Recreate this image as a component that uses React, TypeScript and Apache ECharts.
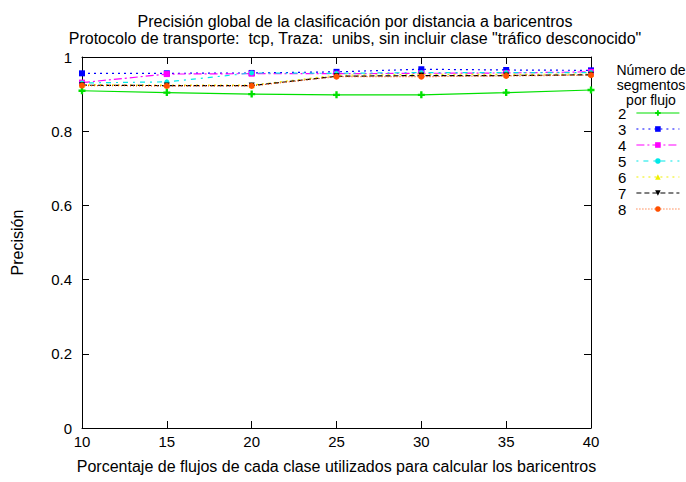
import React, { useEffect, useRef } from 'react';
import * as echarts from 'echarts';

const xValues = [10, 15, 20, 25, 30, 35, 40];
const seriesNames = ['2', '3', '4', '5', '6', '7', '8'];
const seg2 = [0.909, 0.904, 0.900, 0.898, 0.898, 0.904, 0.911];
const seg3 = [0.956, 0.956, 0.957, 0.960, 0.967, 0.965, 0.964];
const seg4 = [0.931, 0.954, 0.955, 0.955, 0.956, 0.957, 0.960];
const seg5 = [0.930, 0.933, 0.957, 0.956, 0.958, 0.958, 0.958];
const seg6 = [0.925, 0.924, 0.924, 0.951, 0.953, 0.953, 0.954];
const seg7 = [0.924, 0.923, 0.923, 0.948, 0.950, 0.950, 0.952];
const seg8 = [0.923, 0.922, 0.922, 0.947, 0.947, 0.949, 0.951];
const yTicks = [0, 0.2, 0.4, 0.6, 0.8, 1];

const allValues = [seg2, seg3, seg4, seg5, seg6, seg7, seg8];
const colors = ['#00e000', '#0000ff', '#ff00ff', '#00e8e8', '#f0f000', '#000000', '#ff5000'];
const dashes: any[] = ['solid', [2, 4], [8, 3, 2, 3], [2, 5, 5, 5], [2, 4], [5, 3], [1, 2]];
const plus = 'path://M2,0H4V2H6V4H4V6H2V4H0V2H2Z';
const symbols = [plus, 'rect', 'rect', 'circle', 'triangle', 'triangle', 'circle'];
const symbolSizes = [7, 6, 6, 5, 6, 6, 6];
const symbolRotates = [0, 0, 0, 0, 0, 180, 0];

const font = 'Liberation Sans, Arial, sans-serif';

export default function App() {
  const ref = useRef<HTMLDivElement>(null);
  useEffect(() => {
    if (!ref.current) return;
    const chart = echarts.init(ref.current, null, { renderer: 'svg' });
    const series = allValues.map((vals, i) => ({
      name: seriesNames[i],
      type: 'line',
      data: vals.map((v, j) => [xValues[j], v]),
      symbol: symbols[i],
      symbolSize: symbolSizes[i],
      symbolRotate: symbolRotates[i],
      showAllSymbol: true,
      lineStyle: { color: colors[i], width: 1.2, type: dashes[i] },
      itemStyle: { color: colors[i] },
      z: 2 + i,
    }));
    const axisCommon = {
      axisLine: { show: true, onZero: false, lineStyle: { color: '#000', width: 1 } },
      axisTick: { show: true, inside: true, length: 7, lineStyle: { color: '#000' } },
      splitLine: { show: false },
    };
    chart.setOption({
      animation: false,
      backgroundColor: '#fff',
      textStyle: { fontFamily: font },
      title: {
        text: 'Precisión global de la clasificación por distancia a baricentros\nProtocolo de transporte:  tcp, Traza:  unibs, sin incluir clase "tráfico desconocido"',
        left: 350,
        top: 8,
        textAlign: 'center',
        textStyle: { fontFamily: font, fontSize: 16, fontWeight: 'normal', color: '#000', lineHeight: 17 },
      },
      graphic: [
        {
          type: 'text',
          x: 651,
          y: 62,
          style: {
            text: 'Número de\nsegmentos\npor flujo',
            fontFamily: font,
            fontSize: 14,
            fill: '#000',
            lineHeight: 15,
            align: 'center',
            verticalAlign: 'top',
          },
        },
      ],
      legend: {
        orient: 'vertical',
        right: 6,
        top: 105,
        padding: 0,
        align: 'right',
        itemWidth: 43,
        itemHeight: 7,
        itemGap: 0,
        data: seriesNames,
        lineStyle: { width: 1.2 },
        textStyle: { fontFamily: font, fontSize: 15, lineHeight: 16, color: '#000', padding: [0, 5, 0, 0] },
      },
      grid: { left: 82, top: 57, right: 95, bottom: 54 },
      xAxis: [
        {
          type: 'value',
          min: 10,
          max: 40,
          interval: 5,
          position: 'bottom',
          name: 'Porcentaje de flujos de cada clase utilizados para calcular los baricentros',
          nameLocation: 'middle',
          nameGap: 30,
          nameTextStyle: { fontFamily: font, fontSize: 16, color: '#000' },
          axisLabel: { fontFamily: font, fontSize: 15, color: '#000', margin: 6 },
          ...axisCommon,
        },
        {
          type: 'value',
          min: 10,
          max: 40,
          interval: 5,
          position: 'top',
          axisLabel: { show: false },
          ...axisCommon,
        },
      ],
      yAxis: [
        {
          type: 'value',
          min: 0,
          max: 1,
          interval: 0.2,
          position: 'left',
          name: 'Precisión',
          nameLocation: 'middle',
          nameGap: 57,
          nameTextStyle: { fontFamily: font, fontSize: 16, color: '#000' },
          axisLabel: {
            fontFamily: font,
            fontSize: 15,
            color: '#000',
            margin: 10,
            formatter: (v: number) => (yTicks.some((t) => Math.abs(t - v) < 1e-9) ? String(Math.round(v * 10) / 10) : ''),
          },
          ...axisCommon,
        },
        {
          type: 'value',
          min: 0,
          max: 1,
          interval: 0.2,
          position: 'right',
          axisLabel: { show: false },
          ...axisCommon,
        },
      ],
      series,
    });
    return () => chart.dispose();
  }, []);
  return <div ref={ref} style={{ width: 686, height: 482, position: 'absolute', left: 0, top: 0 }} />;
}
